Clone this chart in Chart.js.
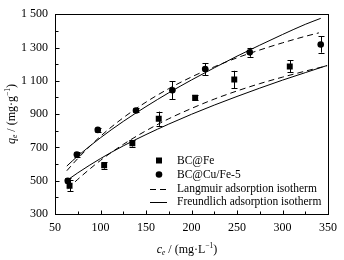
<!DOCTYPE html>
<html><head><meta charset="utf-8">
<script src="https://cdn.jsdelivr.net/npm/chart.js@4/dist/chart.umd.min.js"></script>
<style>html,body{margin:0;padding:0;background:#fff}</style>
</head><body>
<canvas id="c" width="344" height="260" style="width:344px;height:260px;display:block"></canvas>
<script>
// ---- data ----
const feX   = [66, 104, 135, 164, 204, 247, 308];
const feY   = [470, 592, 725, 872, 998, 1108, 1186];
const feErr = [32, 20, 20, 43, 15, 52, 36];

const cuX   = [64, 74, 97, 139, 179, 215, 264, 342];
const cuY   = [500, 657, 805, 922, 1043, 1171, 1271, 1318];
const cuErr = [15, 15, 12, 12, 55, 36, 27, 49];

const cuFreundX = [63, 75, 100, 125, 150, 175, 200, 225, 250, 275, 300, 325, 342];
const cuFreundY = [588, 648, 758, 856, 945, 1028, 1105, 1178, 1248, 1314, 1378, 1439, 1475];
const cuLangX   = [63, 75, 100, 125, 150, 175, 200, 225, 250, 275, 300, 325, 340];
const cuLangY   = [560, 633, 767, 878, 972, 1053, 1123, 1184, 1238, 1285, 1328, 1367, 1388];
const feFreundX = [64, 75, 100, 125, 150, 175, 200, 225, 250, 275, 300, 325, 349];
const feFreundY = [505, 547, 633, 709, 777, 840, 899, 954, 1006, 1056, 1104, 1149, 1192];
const feLangX   = [64, 75, 100, 125, 150, 175, 200, 225, 250, 275, 300, 325, 349];
const feLangY   = [452, 508, 622, 718, 800, 872, 934, 990, 1039, 1083, 1122, 1158, 1190];

const xTickValues = [50, 100, 150, 200, 250, 300, 350];
const xTickLabels = ['50', '100', '150', '200', '250', '300', '350'];
const yTickValues = [300, 500, 700, 900, 1100, 1300, 1500];
const yTickLabels = ['300', '500', '700', '900', '1 100', '1 300', '1 500'];
const xMinorValues = [75, 125, 175, 225, 275, 325];
const yMinorValues = [400, 600, 800, 1000, 1200, 1400];

const seriesNames = ['BC@Fe', 'BC@Cu/Fe-5', 'Langmuir adsorption isotherm', 'Freundlich adsorption isotherm'];

const FONT = '"Liberation Serif", "Times New Roman", serif';
const pts = (xs, ys) => xs.map((x, i) => ({x, y: ys[i]}));

function lineDs(xs, ys, dashed) {
  return {
    type: 'scatter', data: pts(xs, ys), showLine: true, order: 2,
    borderColor: '#000', borderWidth: 1, borderDash: dashed ? [6, 4] : [],
    pointRadius: 0, pointHoverRadius: 0, cubicInterpolationMode: 'monotone', fill: false
  };
}

function richText(ctx, parts, cx, cy) {
  let w = 0;
  parts.forEach(p => { ctx.font = p.f; p.w = ctx.measureText(p.t).width; w += p.w; });
  let x = cx - w / 2;
  ctx.textBaseline = 'middle';
  ctx.textAlign = 'left';
  parts.forEach(p => { ctx.font = p.f; ctx.fillText(p.t, x, cy + (p.dy || 0)); x += p.w; });
}

const decor = {
  id: 'decor',
  afterDatasetsDraw(chart) {
    const ctx = chart.ctx, xs = chart.scales.x, ys = chart.scales.y;
    ctx.save();
    ctx.strokeStyle = '#000'; ctx.lineWidth = 1;
    [[feX, feY, feErr], [cuX, cuY, cuErr]].forEach(([X, Y, E]) => {
      X.forEach((xv, i) => {
        const px = Math.round(xs.getPixelForValue(xv)) + 0.5;
        const y1 = ys.getPixelForValue(Y[i] + E[i]);
        const y2 = ys.getPixelForValue(Y[i] - E[i]);
        ctx.beginPath();
        ctx.moveTo(px, y1); ctx.lineTo(px, y2);
        ctx.moveTo(px - 3, Math.round(y1) + 0.5); ctx.lineTo(px + 3, Math.round(y1) + 0.5);
        ctx.moveTo(px - 3, Math.round(y2) + 0.5); ctx.lineTo(px + 3, Math.round(y2) + 0.5);
        ctx.stroke();
      });
    });
    ctx.restore();
  },
  afterDraw(chart) {
    const ctx = chart.ctx, a = chart.chartArea, xs = chart.scales.x, ys = chart.scales.y;
    ctx.save();
    ctx.strokeStyle = '#000'; ctx.fillStyle = '#000'; ctx.lineWidth = 1; ctx.setLineDash([]);
    // frame
    ctx.strokeRect(Math.round(a.left) + 0.5, Math.round(a.top) + 0.5,
                   Math.round(a.right - a.left), Math.round(a.bottom - a.top));
    // ticks (inward)
    ctx.beginPath();
    const bot = Math.round(a.bottom) + 0.5, lef = Math.round(a.left) + 0.5;
    xTickValues.concat(xMinorValues).forEach(v => {
      const len = xTickValues.includes(v) ? 4 : 3;
      const px = Math.round(xs.getPixelForValue(v)) + 0.5;
      ctx.moveTo(px, bot); ctx.lineTo(px, bot - len);
    });
    yTickValues.concat(yMinorValues).forEach(v => {
      const len = yTickValues.includes(v) ? 4 : 3;
      const py = Math.round(ys.getPixelForValue(v)) + 0.5;
      ctx.moveTo(lef, py); ctx.lineTo(lef + len, py);
    });
    ctx.stroke();
    // axis titles
    richText(ctx, [
      {t: 'c', f: 'italic 12px ' + FONT},
      {t: 'e', f: 'italic 7.5px ' + FONT, dy: 3},
      {t: ' / (mg\u00B7L', f: '12px ' + FONT},
      {t: '\u22121', f: '7.5px ' + FONT, dy: -4},
      {t: ')', f: '12px ' + FONT}
    ], 187, 250);
    ctx.save();
    ctx.translate(12, 114);
    ctx.rotate(-Math.PI / 2);
    richText(ctx, [
      {t: 'q', f: 'italic 12px ' + FONT},
      {t: 'e', f: 'italic 7.5px ' + FONT, dy: 3},
      {t: ' / (mg\u00B7g', f: '12px ' + FONT},
      {t: '\u22121', f: '7.5px ' + FONT, dy: -4},
      {t: ')', f: '12px ' + FONT}
    ], 0, 0);
    ctx.restore();
    // legend
    const rowY = [160.5, 174.5, 188.5, 202];
    const mx = 159, lx1 = 150, lx2 = 167, tx = 177;
    ctx.font = '11.5px ' + FONT; ctx.textAlign = 'left'; ctx.textBaseline = 'middle';
    seriesNames.forEach((name, i) => {
      const y = rowY[i];
      if (i === 0) { ctx.fillRect(mx - 3, y - 3, 6, 6); }
      else if (i === 1) { ctx.beginPath(); ctx.arc(mx, y, 3.3, 0, Math.PI * 2); ctx.fill(); }
      else {
        ctx.beginPath(); ctx.setLineDash(i === 2 ? [6, 4] : []);
        ctx.moveTo(lx1, Math.round(y) + 0.5); ctx.lineTo(lx2, Math.round(y) + 0.5); ctx.stroke();
        ctx.setLineDash([]);
      }
      ctx.fillText(name, tx, y);
    });
    ctx.restore();
  }
};

new Chart(document.getElementById('c'), {
  type: 'scatter',
  data: {
    datasets: [
      lineDs(cuLangX, cuLangY, true),
      lineDs(cuFreundX, cuFreundY, false),
      lineDs(feLangX, feLangY, true),
      lineDs(feFreundX, feFreundY, false),
      { label: seriesNames[0], data: pts(feX, feY), order: 1, pointStyle: 'rect', pointRadius: 4.2,
        backgroundColor: '#000', borderColor: '#000', borderWidth: 0 },
      { label: seriesNames[1], data: pts(cuX, cuY), order: 1, pointStyle: 'circle', pointRadius: 3.3,
        backgroundColor: '#000', borderColor: '#000', borderWidth: 0 }
    ]
  },
  options: {
    responsive: false, animation: false, devicePixelRatio: 1,
    layout: { padding: { top: 10, right: 13, left: 0, bottom: 0 } },
    plugins: { legend: { display: false }, tooltip: { enabled: false } },
    scales: {
      x: {
        type: 'linear', min: 50, max: 350,
        afterBuildTicks: s => { s.ticks = xTickValues.map(v => ({value: v})); },
        afterFit: s => { s.height = 46; },
        grid: { display: false, drawTicks: false }, border: { display: false },
        ticks: { padding: 7, color: '#000', font: { family: FONT, size: 12 },
                 maxRotation: 0, autoSkip: false,
                 callback: v => xTickLabels[xTickValues.indexOf(v)] }
      },
      y: {
        type: 'linear', min: 300, max: 1500,
        afterBuildTicks: s => { s.ticks = yTickValues.map(v => ({value: v})); },
        afterFit: s => { s.width = 55; },
        grid: { display: false, drawTicks: false }, border: { display: false },
        ticks: { padding: 7, color: '#000', font: { family: FONT, size: 12 }, autoSkip: false,
                 callback: v => yTickLabels[yTickValues.indexOf(v)] }
      }
    }
  },
  plugins: [decor]
});
</script>
</body></html>
